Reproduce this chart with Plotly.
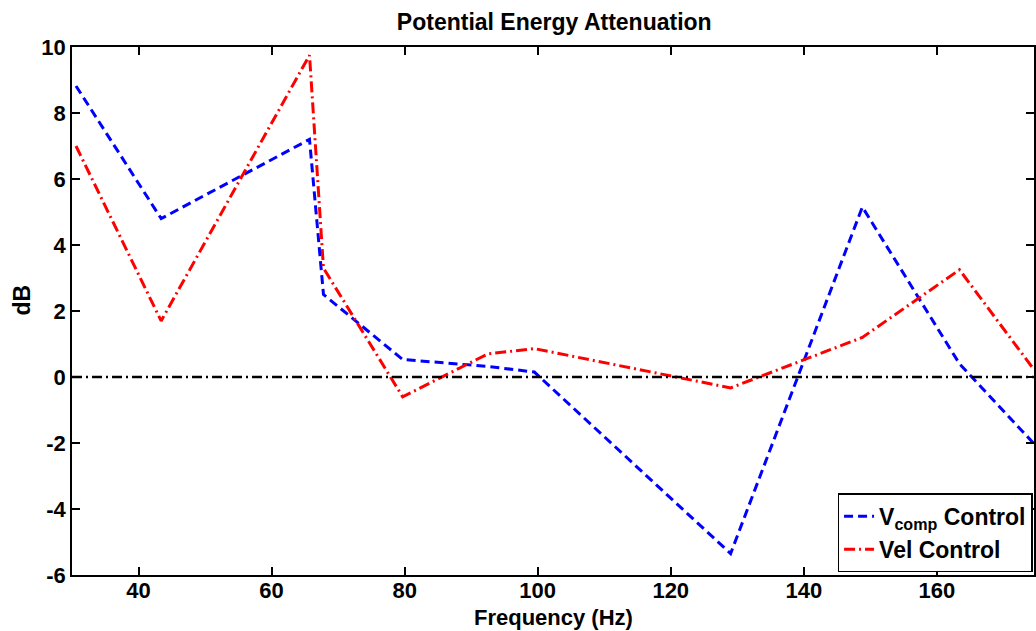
import plotly.graph_objects as go

freq = [30.6, 43.4, 65.7, 67.8, 79.7, 92.5, 99.5, 129.0, 148.8, 163.4, 174.5]
vcomp_db = [8.82, 4.8, 7.2, 2.5, 0.53, 0.32, 0.15, -5.35, 5.15, 0.4, -2.0]
vel_db = [7.0, 1.7, 9.75, 3.3, -0.6, 0.7, 0.86, -0.33, 1.2, 3.25, 0.25]

x_ticks = [40, 60, 80, 100, 120, 140, 160]
x_tick_labels = ["<b>40</b>", "<b>60</b>", "<b>80</b>", "<b>100</b>", "<b>120</b>", "<b>140</b>", "<b>160</b>"]
y_ticks = [-6, -4, -2, 0, 2, 4, 6, 8, 10]
y_tick_labels = ["<b>-6</b>", "<b>-4</b>", "<b>-2</b>", "<b>0</b>", "<b>2</b>", "<b>4</b>", "<b>6</b>", "<b>8</b>", "<b>10</b>"]

font_family = "Liberation Sans, Arial, sans-serif"

fig = go.Figure()
fig.add_trace(go.Scatter(
    x=freq, y=vcomp_db, mode="lines", name="<b>V<sub>comp</sub> Control</b>",
    line=dict(color="#0000ff", width=3, dash="9px,5px"),
))
fig.add_trace(go.Scatter(
    x=freq, y=vel_db, mode="lines", name="<b>Vel Control</b>",
    line=dict(color="#ff0000", width=3, dash="11px,4px,2px,4px"),
))
fig.add_hline(y=0, line=dict(color="black", width=2.5, dash="10px,4px,2px,4px"))

axis_common = dict(
    showline=True, linecolor="black", linewidth=1.5, mirror="ticks",
    ticks="inside", ticklen=8, tickwidth=1.5, tickcolor="black",
    showgrid=False, zeroline=False,
    tickfont=dict(family=font_family, size=22, color="black"),
)

fig.update_layout(
    width=1036, height=631,
    margin=dict(l=72, r=0, t=47, b=56),
    paper_bgcolor="white", plot_bgcolor="white",
    title=dict(text="<b>Potential Energy Attenuation</b>", x=0.535, xanchor="center",
               y=0.966, yanchor="middle",
               font=dict(family=font_family, size=23, color="black")),
    xaxis=dict(range=[30, 174.6], tickvals=x_ticks, ticktext=x_tick_labels,
               ticklabelstandoff=-5, **axis_common),
    yaxis=dict(range=[-6, 10], tickvals=y_ticks, ticktext=y_tick_labels, **axis_common),
    legend=dict(x=0.9985, xanchor="right", y=0.005, yanchor="bottom",
                bgcolor="white", bordercolor="black", borderwidth=1.5,
                font=dict(family=font_family, size=23, color="black"),
                tracegroupgap=0, itemwidth=30),
    showlegend=True,
)

fig.add_annotation(text="<b>Frequency (Hz)</b>", xref="paper", yref="paper",
                   x=0.5, y=0, xanchor="center", yanchor="top", yshift=-29,
                   borderpad=0,
                   showarrow=False, font=dict(family=font_family, size=22, color="black"))
fig.add_annotation(text="<b>dB</b>", xref="paper", yref="paper", textangle=-90,
                   x=0, y=0.52, xanchor="center", yanchor="middle", xshift=-50,
                   showarrow=False, font=dict(family=font_family, size=23, color="black"))

fig.write_html("out.html")
